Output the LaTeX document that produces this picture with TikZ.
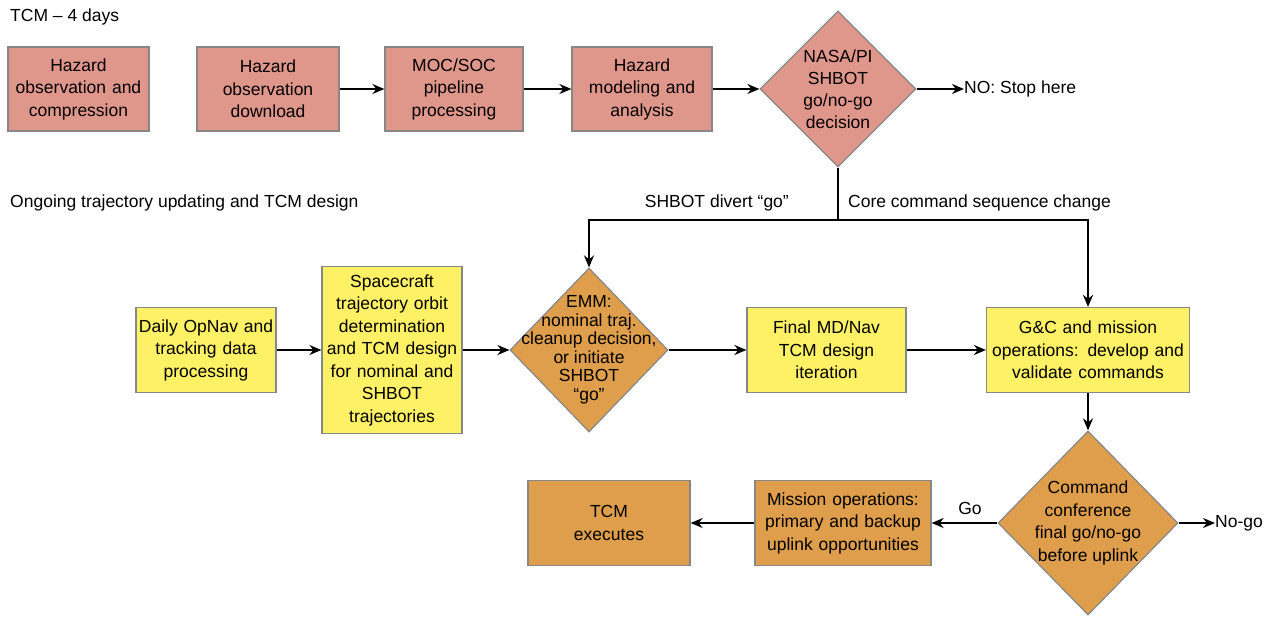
\documentclass[tikz,border=0pt]{standalone}
\usepackage{fontspec}
\setmainfont{Liberation Sans}
\usetikzlibrary{shapes.geometric,arrows.meta}
\hyphenpenalty=10000
\exhyphenpenalty=10000
\definecolor{pinkf}{RGB}{224,151,139}
\definecolor{orangef}{RGB}{222,158,76}
\definecolor{yellowf}{RGB}{255,241,102}
\definecolor{edgec}{RGB}{135,135,135}
\tikzset{
  txt/.style={font=\fontsize{17.5}{22}\selectfont, inner sep=0pt},
  box/.style={draw=edgec, line width=1.2pt, align=center, inner sep=0pt, font=\fontsize{17.5}{22.5}\selectfont},
  dia/.style={draw=edgec, line width=1.2pt, diamond, inner sep=0pt, aspect=1},
  pk/.style={fill=pinkf},
  og/.style={fill=orangef},
  yl/.style={fill=yellowf},
  arr/.style={line width=2pt, -{Stealth[length=12pt,width=10pt]}},
  ln/.style={line width=2pt}
}
\begin{document}
\begin{tikzpicture}[x=1pt,y=-1pt]
\useasboundingbox (0,0) rectangle (1273,618);
\fill[white] (0,0) rectangle (1273,618);

\node[txt, anchor=west] (t1) at (10,17) {TCM – 4 days};
\node[txt, anchor=west] (t2) at (10,203) {Ongoing trajectory updating and TCM design};

% top row
\node[box, pk, minimum width=141, minimum height=84, text width=141] (b1) at (78.5,89) {Hazard\\observation and\\compression};
\node[box, pk, minimum width=142, minimum height=84, text width=142] (b2) at (268,89) {Hazard\\observation\\download};
\node[box, pk, minimum width=138, minimum height=84, text width=138] (b3) at (454,89) {MOC/SOC\\pipeline\\processing};
\node[box, pk, minimum width=140, minimum height=84, text width=140] (b4) at (642,89) {Hazard\\modeling and\\analysis};
\node[dia, pk, minimum width=156, minimum height=156,
      label={[txt, align=center, font=\fontsize{17.5}{22}\selectfont]center:NASA/PI\\SHBOT\\go/no-go\\decision}] (d1) at (838,89) {};
\node[txt, anchor=west] (stop) at (964,89) {NO: Stop here};

\draw[arr] (b2) -- (b3);
\draw[arr] (b3) -- (b4);
\draw[arr] (b4) -- (d1);
\draw[arr] (d1) -- (stop);

% branch
\coordinate (j) at (838,220);
\node[txt, anchor=east] (lsh) at (789,203) {SHBOT divert “go”};
\node[txt, anchor=west] (lcore) at (848,203) {Core command sequence change};

% middle row
\node[box, yl, minimum width=140, minimum height=85, text width=140] (daily) at (206,350) {Daily OpNav and\\tracking data\\processing};
\node[box, yl, minimum width=140, minimum height=167, text width=140] (sc) at (392,350) {Spacecraft\\trajectory orbit\\determination\\and TCM design\\for nominal and\\SHBOT\\trajectories};
\node[dia, og, minimum width=158, minimum height=164,
      label={[txt, align=center, font=\fontsize{17.5}{18.5}\selectfont]center:EMM:\\nominal traj.\\cleanup decision,\\or initiate\\SHBOT\\“go”}] (emm) at (589,350) {};
\node[box, yl, minimum width=159, minimum height=85, text width=159] (fin) at (826.5,350) {Final MD/Nav\\TCM design\\iteration};
\node[box, yl, minimum width=203, minimum height=85, text width=203] (gc) at (1088,350) {G\&C and mission\\operations: develop and\\validate commands};

\draw[ln] (d1.south) -- (j);
\draw[arr] (j) -| (emm.north);
\draw[arr] (j) -| (gc.north);

\draw[arr] (daily) -- (sc);
\draw[arr] (sc) -- (emm);
\draw[arr] (emm) -- (fin);
\draw[arr] (fin) -- (gc);

% bottom row
\node[dia, og, minimum width=180, minimum height=184,
      label={[txt, align=center, font=\fontsize{17.5}{22.5}\selectfont]center:Command\\conference\\final go/no-go\\before uplink}] (cmd) at (1088,523) {};
\node[box, og, minimum width=176, minimum height=85, text width=176] (mis) at (843,523) {Mission operations:\\primary and backup\\uplink opportunities};
\node[box, og, minimum width=162, minimum height=85, text width=162] (tcm) at (609,523) {TCM\\executes};
\node[txt, anchor=west] (nogo) at (1215,523) {No-go};
\node[txt] (go) at (970,508) {Go};

\draw[arr] (gc) -- (cmd);
\draw[arr] (cmd) -- (nogo);
\draw[arr] (cmd) -- (mis);
\draw[arr] (mis) -- (tcm);
\end{tikzpicture}
\end{document}
